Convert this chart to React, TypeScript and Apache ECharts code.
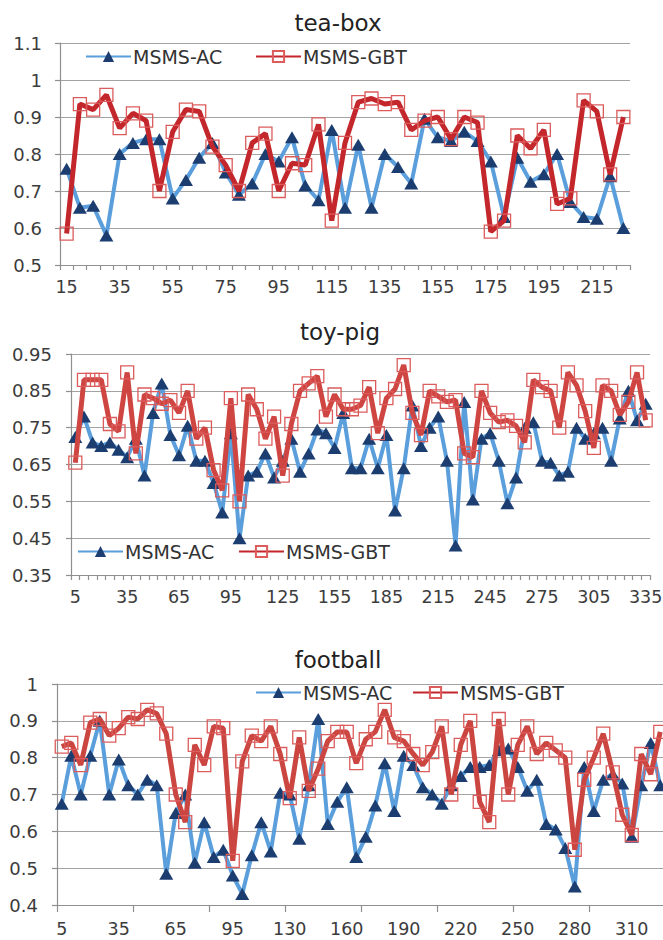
import React, { useEffect, useRef } from "react";
import * as echarts from "echarts";

// ---------- tea-box ----------
const teaCategories = [
  "15", "20", "25", "30", "35", "40", "45", "50", "55", "60",
  "65", "70", "75", "80", "85", "90", "95", "100", "105", "110",
  "115", "120", "125", "130", "135", "140", "145", "150", "155", "160",
  "165", "170", "175", "180", "185", "190", "195", "200", "205", "210",
  "215", "220", "225",
];
const teaAC = [
  0.76, 0.655, 0.66, 0.58, 0.8, 0.83, 0.84, 0.84, 0.68, 0.73,
  0.79, 0.83, 0.75, 0.69, 0.72, 0.8, 0.78, 0.845, 0.715, 0.675,
  0.865, 0.655, 0.825, 0.655, 0.8, 0.765, 0.72, 0.895, 0.845, 0.835,
  0.86, 0.835, 0.78, 0.63, 0.79, 0.725, 0.745, 0.8, 0.67, 0.63,
  0.625, 0.74, 0.6,
];
const teaGBT = [
  0.585, 0.935, 0.92, 0.96, 0.87, 0.91, 0.89, 0.7, 0.86, 0.92,
  0.915, 0.82, 0.77, 0.7, 0.83, 0.855, 0.7, 0.775, 0.77, 0.88,
  0.62, 0.83, 0.94, 0.95, 0.935, 0.94, 0.865, 0.89, 0.9, 0.84,
  0.9, 0.885, 0.59, 0.62, 0.85, 0.815, 0.865, 0.665, 0.68, 0.945,
  0.915, 0.745, 0.9,
];

// ---------- toy-pig ----------
const pigCategories = [
  "5", "10", "15", "20", "25", "30", "35", "40", "45", "50",
  "55", "60", "65", "70", "75", "80", "85", "90", "95", "100",
  "105", "110", "115", "120", "125", "130", "135", "140", "145", "150",
  "155", "160", "165", "170", "175", "180", "185", "190", "195", "200",
  "205", "210", "215", "220", "225", "230", "235", "240", "245", "250",
  "255", "260", "265", "270", "275", "280", "285", "290", "295", "300",
  "305", "310", "315", "320", "325", "330", "335",
];
const pigAC = [
  0.725, 0.78, 0.71, 0.7, 0.71, 0.69, 0.67, 0.72, 0.62, 0.79,
  0.87, 0.73, 0.675, 0.755, 0.66, 0.66, 0.6, 0.52, 0.735, 0.45,
  0.62, 0.63, 0.68, 0.615, 0.66, 0.72, 0.63, 0.68, 0.745, 0.735,
  0.695, 0.79, 0.64, 0.64, 0.72, 0.64, 0.73, 0.525, 0.64, 0.81,
  0.7, 0.75, 0.78, 0.66, 0.43, 0.82, 0.555, 0.72, 0.735, 0.66,
  0.545, 0.615, 0.75, 0.765, 0.66, 0.655, 0.62, 0.63, 0.75, 0.72,
  0.735, 0.75, 0.66, 0.775, 0.85, 0.77, 0.815,
];
const pigGBT = [
  0.655, 0.88, 0.88, 0.88, 0.76, 0.74, 0.9, 0.68, 0.84, 0.83,
  0.815, 0.825, 0.79, 0.85, 0.72, 0.75, 0.635, 0.58, 0.83, 0.55,
  0.84, 0.8, 0.72, 0.78, 0.62, 0.76, 0.85, 0.87, 0.89, 0.78,
  0.84, 0.8, 0.8, 0.81, 0.86, 0.735, 0.83, 0.855, 0.92, 0.79,
  0.73, 0.85, 0.835, 0.82, 0.825, 0.68, 0.67, 0.85, 0.79, 0.765,
  0.77, 0.755, 0.71, 0.88, 0.86, 0.85, 0.75, 0.9, 0.865, 0.795,
  0.695, 0.865, 0.85, 0.785, 0.82, 0.9, 0.77,
];

// ---------- football ----------
const ballCategories = [
  "5", "10", "15", "20", "25", "30", "35", "40", "45", "50",
  "55", "60", "65", "70", "75", "80", "85", "90", "95", "100",
  "105", "110", "115", "120", "130", "135", "140", "145", "150", "155",
  "160", "165", "170", "175", "180", "185", "190", "195", "200", "205",
  "210", "215", "220", "225", "230", "235", "240", "245", "250", "255",
  "260", "265", "270", "275", "280", "285", "290", "295", "300", "305",
  "310", "315", "320", "325",
];
const ballAC = [
  0.675, 0.805, 0.7, 0.805, 0.9, 0.7, 0.795, 0.725, 0.7, 0.74,
  0.725, 0.485, 0.65, 0.7, 0.515, 0.625, 0.53, 0.55, 0.48, 0.43,
  0.535, 0.625, 0.545, 0.705, 0.7, 0.58, 0.725, 0.905, 0.62, 0.68,
  0.72, 0.53, 0.585, 0.67, 0.785, 0.655, 0.805, 0.78, 0.72, 0.7,
  0.675, 0.725, 0.75, 0.775, 0.775, 0.78, 0.82, 0.825, 0.775, 0.71,
  0.74, 0.62, 0.605, 0.555, 0.45, 0.775, 0.655, 0.74, 0.755, 0.73,
  0.585, 0.725, 0.84, 0.725,
];
const ballGBT = [
  0.83, 0.84, 0.78, 0.895, 0.905, 0.86, 0.88, 0.91, 0.905, 0.93,
  0.92, 0.865, 0.7, 0.625, 0.835, 0.78, 0.885, 0.88, 0.52, 0.79,
  0.86, 0.845, 0.885, 0.81, 0.69, 0.855, 0.71, 0.77, 0.845, 0.87,
  0.87, 0.785, 0.85, 0.87, 0.93, 0.855, 0.845, 0.81, 0.78, 0.815,
  0.885, 0.7, 0.835, 0.9, 0.68, 0.625, 0.905, 0.7, 0.835, 0.885,
  0.81, 0.84, 0.82, 0.8, 0.55, 0.74, 0.8, 0.865, 0.76, 0.645,
  0.59, 0.81, 0.755, 0.87,
];

const titles = ["tea-box", "toy-pig", "football"];
const seriesNames = ["MSMS-AC", "MSMS-GBT"];

const FONT = "DejaVu Sans";
const LABEL_COLOR = "#3c3c3c";
const GRID_COLOR = "#a3a3a3";
const BLUE_LINE = "#5a9edb";
const BLUE_MARK = "#1c3d70";
const RED_LINE = ["#c3262b", "#cf4541", "#cb4541"];
const RED_MARK = "#dc5c5c";

function buildOption() {
  const grids = [
    { left: 60, top: 43, right: 33, height: 222 },
    { left: 71, top: 354, right: 13, height: 221 },
    { left: 57, top: 684, right: -2, height: 221 },
  ].map((g) => ({ ...g, outerBoundsMode: "none", containLabel: false }));

  const cats = [teaCategories, pigCategories, ballCategories];
  const labelIntervals = [3, 5, 5];
  const tickIntervals = [0, 0, 7];
  const tickLengths = [5, 5, 7];
  const yRanges = [
    { min: 0.5, max: 1.1, interval: 0.1 },
    { min: 0.35, max: 0.95, interval: 0.1 },
    { min: 0.4, max: 1.0, interval: 0.1 },
  ];
  const xMargins = [13, 13, 15];
  const yMargins = [18, 19, 19];

  const xAxis = cats.map((data, i) => ({
    type: "category",
    gridIndex: i,
    data,
    boundaryGap: true,
    axisLine: { show: true, lineStyle: { color: "#8f8f8f", width: 1.2 } },
    axisTick: {
      show: true,
      interval: tickIntervals[i],
      length: tickLengths[i],
      alignWithLabel: false,
      lineStyle: { color: "#8f8f8f", width: 1.2 },
    },
    axisLabel: {
      interval: labelIntervals[i],
      margin: xMargins[i],
      fontSize: 17.5,
      fontFamily: FONT,
      color: LABEL_COLOR,
      hideOverlap: false,
    },
    splitLine: { show: false },
  }));

  const yAxis = yRanges.map((r, i) => ({
    type: "value",
    gridIndex: i,
    min: r.min,
    max: r.max,
    interval: r.interval,
    axisLine: { show: true, lineStyle: { color: "#8f8f8f", width: 1.2 } },
    axisTick: { show: true, length: 5, lineStyle: { color: "#8f8f8f", width: 1.2 } },
    axisLabel: {
      margin: yMargins[i],
      fontSize: 18,
      fontFamily: FONT,
      color: LABEL_COLOR,
      formatter: (v: number) => String(Math.round(v * 100) / 100),
    },
    splitLine: { show: true, lineStyle: { color: GRID_COLOR, width: 1.2 } },
  }));

  const acData = [teaAC, pigAC, ballAC];
  const gbtData = [teaGBT, pigGBT, ballGBT];
  const series: any[] = [];
  for (let i = 0; i < 3; i++) {
    series.push({
      type: "line",
      name: seriesNames[0],
      xAxisIndex: i,
      yAxisIndex: i,
      data: acData[i],
      symbol: "triangle",
      symbolSize: [14, 12],
      showAllSymbol: true,
      itemStyle: { color: BLUE_MARK },
      lineStyle: { color: BLUE_LINE, width: 4 },
      z: 2,
    });
    series.push({
      type: "line",
      name: seriesNames[1],
      xAxisIndex: i,
      yAxisIndex: i,
      data: gbtData[i],
      symbol: "rect",
      symbolSize: 13,
      showAllSymbol: true,
      itemStyle: { color: "rgba(255,255,255,0)", borderColor: RED_MARK, borderWidth: 1.3 },
      lineStyle: { color: RED_LINE[i], width: 5 },
      z: 3,
    });
  }

  const legendPos = [
    { ac: 85, gbt: 255, top: 47 },
    { ac: 77, gbt: 238, top: 542 },
    { ac: 255, gbt: 412, top: 683 },
  ];
  const legend: any[] = [];
  legendPos.forEach((p) => {
    [
      { name: seriesNames[0], left: p.ac },
      { name: seriesNames[1], left: p.gbt },
    ].forEach((it) => {
      legend.push({
        data: [it.name],
        left: it.left,
        top: p.top,
        orient: "horizontal",
        padding: 0,
        itemWidth: 45,
        itemHeight: 14,
        itemGap: 0,
        selectedMode: false,
        textStyle: { fontFamily: FONT, fontSize: 19, color: "#333", padding: [0, 0, 0, -3] },
      });
    });
  });

  const titlePos = [
    { x: 338, y: 23 },
    { x: 340, y: 332 },
    { x: 338, y: 660 },
  ];
  const graphic = titles.map((t, i) => ({
    type: "text",
    x: titlePos[i].x,
    y: titlePos[i].y,
    silent: true,
    style: {
      text: t,
      fontFamily: FONT,
      fontSize: 23,
      fill: "#222",
      align: "center",
      verticalAlign: "middle",
      textAlign: "center",
      textVerticalAlign: "middle",
    },
  }));

  return {
    animation: false,
    backgroundColor: "#ffffff",
    grid: grids,
    xAxis,
    yAxis,
    legend,
    series,
    graphic,
  };
}

export default function App() {
  const ref = useRef<HTMLDivElement>(null);
  useEffect(() => {
    if (!ref.current) return;
    const chart = echarts.init(ref.current, null, { renderer: "svg" });
    chart.setOption(buildOption() as any);
    return () => chart.dispose();
  }, []);
  return (
    <div
      ref={ref}
      style={{ position: "absolute", left: 0, top: 0, width: 663, height: 940, background: "#fff" }}
    />
  );
}
